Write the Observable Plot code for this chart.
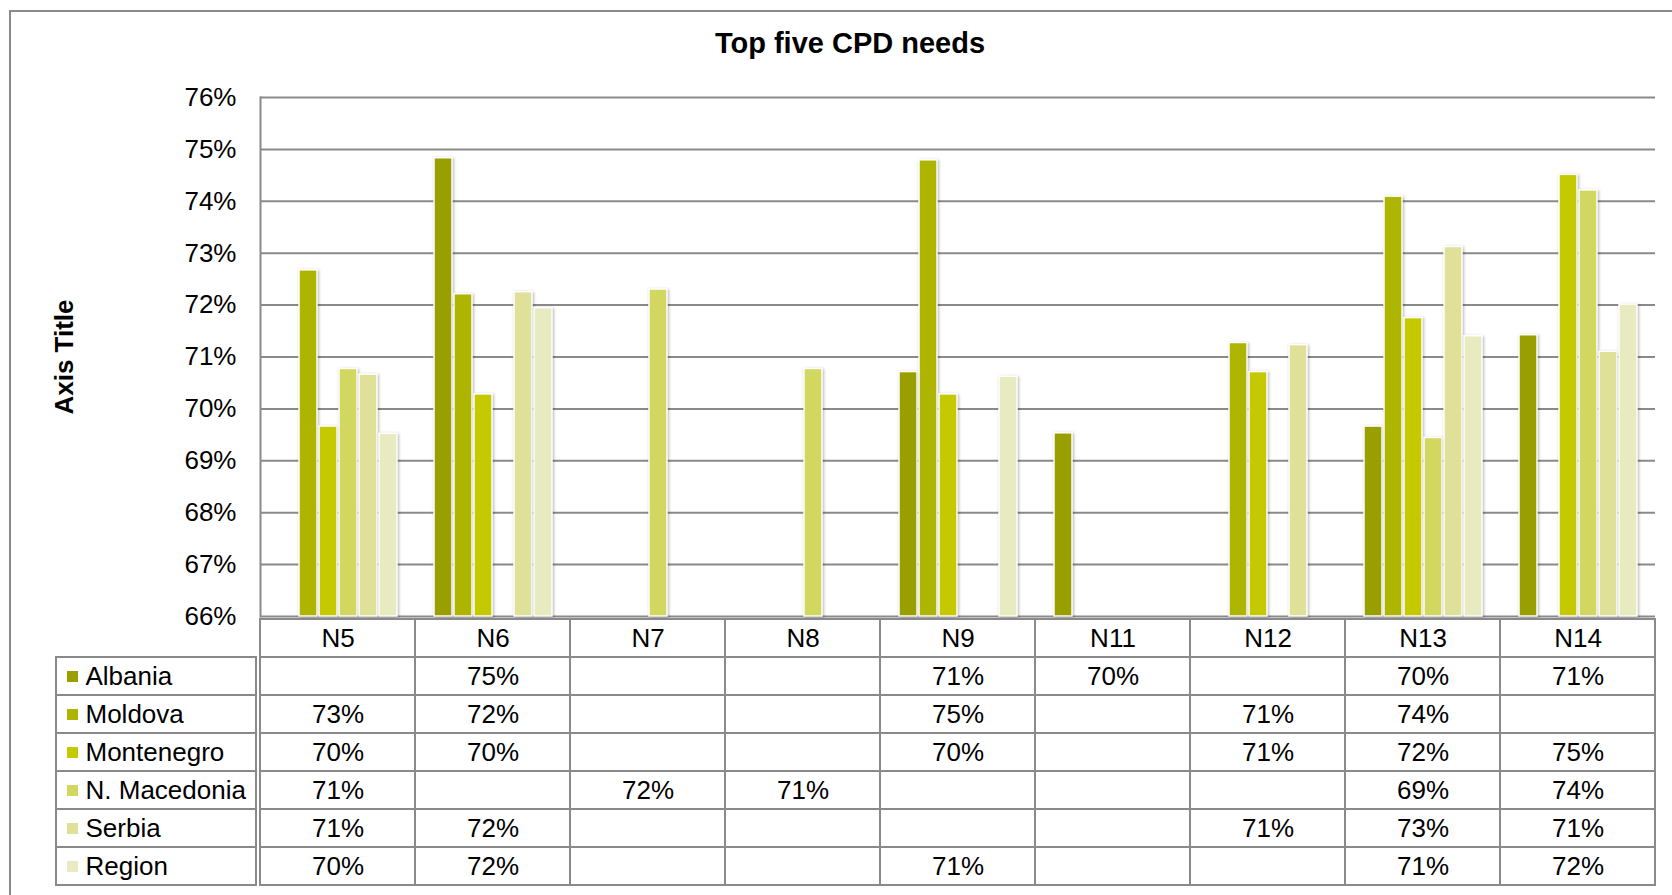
<!DOCTYPE html>
<html><head><meta charset="utf-8">
<script src="https://cdn.jsdelivr.net/npm/d3@7"></script>
<script src="https://cdn.jsdelivr.net/npm/@observablehq/plot@0.6"></script>
<style>
html,body{margin:0;padding:0;background:#fff;overflow:hidden;}
#wrap{position:relative;width:1672px;height:895px;overflow:hidden;font-family:Arial,"Liberation Sans",sans-serif;}
#border{position:absolute;left:9px;top:10px;width:1800px;height:1000px;border:2px solid #8a8a8a;}
#title{position:absolute;left:0;width:1700px;top:29px;line-height:29px;text-align:center;font-weight:bold;font-size:29px;color:#000;}
.abs{position:absolute;left:0;}
g[aria-label="bar"] rect{filter:drop-shadow(1px 1px 1.5px rgba(0,0,0,0.3));}
</style></head><body>
<div id="wrap">
  <div id="border"></div>
  <div id="title">Top five CPD needs</div>
  <div id="chart" class="abs" style="top:0"></div>
  <div id="labels" class="abs" style="top:615px"></div>
  <div id="table" class="abs" style="top:615px"></div>
</div>
<script>
const categories = ["N5","N6","N7","N8","N9","N11","N12","N13","N14"];
const seriesNames = ["Albania","Moldova","Montenegro","N. Macedonia","Serbia","Region"];
const colors = ["#9a9f00","#adb500","#c5ca00","#d2d75f","#dfe199","#e8eabf"];
const albania    = [null, 74.83, null, null, 70.71, 69.53, null, 69.66, 71.42];
const moldova    = [72.67, 72.21, null, null, 74.79, null, 71.27, 74.09, null];
const montenegro = [69.66, 70.28, null, null, 70.28, null, 70.71, 71.75, 74.51];
const nMacedonia = [70.77, null, 72.30, 70.77, null, null, null, 69.44, 74.21];
const serbia     = [70.66, 72.25, null, null, null, null, 71.23, 73.12, 71.10];
const region     = [69.52, 71.94, null, null, 70.62, null, null, 71.40, 72.01];
const yTicks = [66,67,68,69,70,71,72,73,74,75,76];

const seriesValues = [albania, moldova, montenegro, nMacedonia, serbia, region];
const font = 'Arial, "Liberation Sans", sans-serif';
const gray = "#8a8a8a";
const fs = "26px";

const rows = [];
seriesNames.forEach((s, j) => seriesValues[j].forEach((v, i) => {
  if (v != null) rows.push({cat: categories[i], series: s, value: v});
}));

const chart = Plot.plot({
  width: 1672, height: 620,
  marginTop: 97, marginBottom: 4, marginLeft: 256, marginRight: 14,
  style: {fontFamily: font, fontSize: fs, color: "#000", background: "transparent", overflow: "visible"},
  fx: {domain: categories, padding: 0, axis: null},
  x: {domain: seriesNames, paddingInner: 0.1, paddingOuter: 0.75, axis: null},
  y: {domain: [66, 76], axis: null, label: null},
  color: {domain: seriesNames, range: colors},
  marks: [
    Plot.gridY(yTicks, {stroke: gray, strokeOpacity: 1, strokeWidth: 2}),
    Plot.barY(rows, {fx: "cat", x: "series", y1: 66, y2: "value", fill: "series", stroke: "white", strokeWidth: 1.5}),
    Plot.axisY(yTicks, {tickSize: 0, tickPadding: 24, tickFormat: d => d + "%", label: null, fill: "#000"}),
    Plot.frame({anchor: "left", facetAnchor: "left", stroke: gray, strokeWidth: 2}),
    Plot.text(["Axis Title"], {frameAnchor: "left", facetAnchor: "left", textAnchor: "middle", rotate: -90, dx: -196, fontWeight: "bold", fontSize: 26, fill: "#000"})
  ]
});
document.getElementById("chart").appendChild(chart);

const rowKeys = ["hdr", ...seriesNames];
const cells = [];
categories.forEach((c, i) => {
  cells.push({cat: c, row: "hdr", text: c});
  seriesNames.forEach((s, j) => {
    const v = seriesValues[j][i];
    cells.push({cat: c, row: s, text: v == null ? "" : Math.round(v) + "%"});
  });
});

const table = Plot.plot({
  width: 1672, height: 273,
  marginTop: 1, marginBottom: 1, marginLeft: 256, marginRight: 14,
  style: {fontFamily: font, fontSize: fs, color: "#000", background: "transparent", overflow: "visible"},
  x: {domain: categories, padding: 0, axis: null},
  y: {domain: rowKeys, padding: 0, axis: null},
  marks: [
    Plot.cell(cells, {x: "cat", y: "row", fill: "white", stroke: gray, strokeWidth: 2}),
    Plot.text(cells, {x: "cat", y: "row", text: "text", fill: "#000"})
  ]
});
document.getElementById("table").appendChild(table);

const labels = Plot.plot({
  width: 257, height: 273,
  marginTop: 1, marginBottom: 1, marginLeft: 56, marginRight: 1,
  style: {fontFamily: font, fontSize: fs, color: "#000", background: "transparent", overflow: "visible"},
  x: {domain: ["label"], padding: 0, axis: null},
  y: {domain: rowKeys, padding: 0, axis: null},
  color: {domain: seriesNames, range: colors},
  marks: [
    Plot.cell(seriesNames, {x: () => "label", y: d => d, fill: "white", stroke: gray, strokeWidth: 2}),
    Plot.dot(seriesNames, {y: d => d, frameAnchor: "left", dx: 16, symbol: "square", r: 6.2, fill: d => d}),
    Plot.text(seriesNames, {y: d => d, frameAnchor: "left", dx: 29, textAnchor: "start", text: d => d, fill: "#000"})
  ]
});
document.getElementById("labels").appendChild(labels);
</script>
</body></html>
